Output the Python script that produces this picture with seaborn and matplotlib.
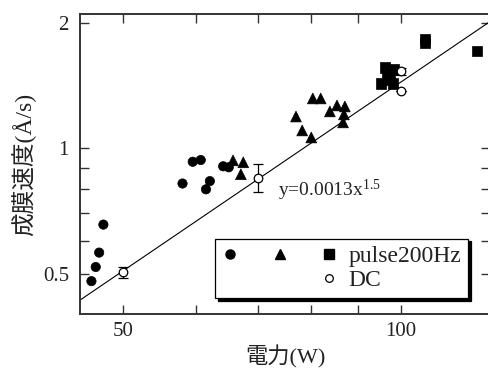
import numpy as np
import pandas as pd
import matplotlib
matplotlib.use('Agg')
import matplotlib.pyplot as plt
import seaborn as sns
from matplotlib.lines import Line2D
from matplotlib.legend_handler import HandlerTuple
from matplotlib.ticker import FixedLocator, NullFormatter, FixedFormatter

# ---------------- data ----------------
circle_power = [46.2, 46.7, 47.1, 47.6, 58.0, 59.5, 60.7, 61.5, 62.1, 64.2, 65.1]
circle_rate = [0.481, 0.520, 0.563, 0.657, 0.824, 0.929, 0.938, 0.798, 0.835, 0.906, 0.901]
tri_power = [65.8, 67.5, 67.1, 77.0, 78.2, 80.0, 80.3, 81.9, 83.8, 85.3, 87.0, 86.8, 86.6]
tri_rate = [0.936, 0.926, 0.867, 1.192, 1.104, 1.062, 1.317, 1.317, 1.226, 1.267, 1.260, 1.206, 1.154]
square_power = [95.2, 96.2, 96.9, 97.4, 98.1, 96.6, 98.4, 106.3, 106.3, 121.0]
square_rate = [1.430, 1.561, 1.527, 1.461, 1.430, 1.486, 1.544, 1.83, 1.79, 1.708]
dc_power = [50, 70, 100, 100]
dc_rate = [0.505, 0.851, 1.53, 1.37]
dc_err = [0.015, 0.065, 0.03, 0.0]

fit_coef = 0.00144
fit_exp = 1.5
fit_label = r'y=0.0013x$^{1.5}$'

x_major = [50, 100]
x_major_labels = ['50', '100']
x_minor = [60, 70, 80, 90]
y_major = [0.5, 1, 2]
y_major_labels = ['0.5', '1', '2']
y_minor = [0.6, 0.7, 0.8, 0.9]
x_limits = (44.9, 125.0)
y_limits = (0.4013, 2.098)

xlabel = '電力(W)'
ylabel = '成膜速度(Å/s)'
legend_labels = ['pulse200Hz', 'DC']

# ---------------- style ----------------
sns.set_theme(style='ticks')
fonts = ['Liberation Serif', 'Noto Sans CJK JP', 'DejaVu Sans']
plt.rcParams['font.family'] = fonts
plt.rcParams['mathtext.fontset'] = 'custom'
plt.rcParams['mathtext.rm'] = 'Liberation Serif'
plt.rcParams['mathtext.it'] = 'Liberation Serif'

fig = plt.figure(figsize=(4.89, 3.69), dpi=100)
ax = fig.add_axes([80/489, 55/369, 410/489, 300/369])

df_pulse = pd.DataFrame({
    'power': circle_power + tri_power + square_power,
    'rate': circle_rate + tri_rate + square_rate,
    'shape': ['circle'] * len(circle_power) + ['triangle'] * len(tri_power) + ['square'] * len(square_power),
})
df_dc = pd.DataFrame({'power': dc_power, 'rate': dc_rate, 'err': dc_err})

# fit line
xs = np.geomspace(x_limits[0] * 0.98, x_limits[1] * 1.02, 50)
ax.plot(xs, fit_coef * xs ** fit_exp, color='black', lw=0.8, zorder=1)

sns.scatterplot(data=df_pulse, x='power', y='rate', style='shape',
                markers={'circle': 'o', 'triangle': '^', 'square': 's'},
                size='shape', sizes={'circle': 45, 'triangle': 60, 'square': 55},
                color='black', edgecolor='black', linewidth=0.5, legend=False, ax=ax, zorder=3)

ax.errorbar(df_dc['power'], df_dc['rate'], yerr=df_dc['err'], fmt='none',
            ecolor='black', elinewidth=0.9, capsize=3.5, capthick=0.9, zorder=2)
sns.scatterplot(data=df_dc, x='power', y='rate', marker='o', s=38,
                facecolor='white', edgecolor='black', linewidth=0.9, legend=False, ax=ax, zorder=4)

ax.set_xscale('log')
ax.set_yscale('log')
ax.set_xlim(*x_limits)
ax.set_ylim(*y_limits)
ax.xaxis.set_major_locator(FixedLocator(x_major))
ax.xaxis.set_major_formatter(FixedFormatter(x_major_labels))
ax.xaxis.set_minor_locator(FixedLocator(x_minor))
ax.xaxis.set_minor_formatter(NullFormatter())
ax.yaxis.set_major_locator(FixedLocator(y_major))
ax.yaxis.set_major_formatter(FixedFormatter(y_major_labels))
ax.yaxis.set_minor_locator(FixedLocator(y_minor))
ax.yaxis.set_minor_formatter(NullFormatter())

ax.tick_params(which='both', direction='in', top=True, right=True, length=6.5,
               width=1.0, color='#333333', labelsize=15, labelcolor='#222222')
ax.tick_params(axis='x', which='major', pad=6)
ax.tick_params(axis='y', which='major', pad=8)
for sp in ax.spines.values():
    sp.set_linewidth(1.4)
    sp.set_color('#333333')

ax.set_xlabel(xlabel, fontsize=16, color='#222222', labelpad=3)
ax.set_ylabel(ylabel, fontsize=17, color='#222222', labelpad=5)

ax.text(73.6, 0.768, fit_label, fontsize=14, color='#222222', ha='left', va='baseline')

# legend
blank = Line2D([], [], linestyle='none', marker='')
h_circle = Line2D([], [], linestyle='none', marker='o', color='black', markersize=6.5)
h_tri = Line2D([], [], linestyle='none', marker='^', color='black', markersize=7)
h_sq = Line2D([], [], linestyle='none', marker='s', color='black', markersize=6.5)
h_dc = Line2D([], [], linestyle='none', marker='o', markerfacecolor='white',
              markeredgecolor='black', markersize=5.5, markeredgewidth=0.9)
fs = 17
leg = ax.legend([(h_circle, h_tri, h_sq), (blank, blank, h_dc)], legend_labels,
                handler_map={tuple: HandlerTuple(ndivide=None, pad=1.4)},
                loc='lower left', bbox_to_anchor=(0.329, 0.053), borderaxespad=0,
                fontsize=fs, handlelength=4.9, handletextpad=0.45, labelspacing=0.1,
                borderpad=0.3, frameon=True, fancybox=False,
                shadow={'color': 'black', 'alpha': 1.0}, framealpha=1)
leg.get_frame().set_edgecolor('black')
leg.get_frame().set_linewidth(0.9)
for t in leg.get_texts():
    t.set_color('#222222')

fig.savefig('out.png', dpi=100)
